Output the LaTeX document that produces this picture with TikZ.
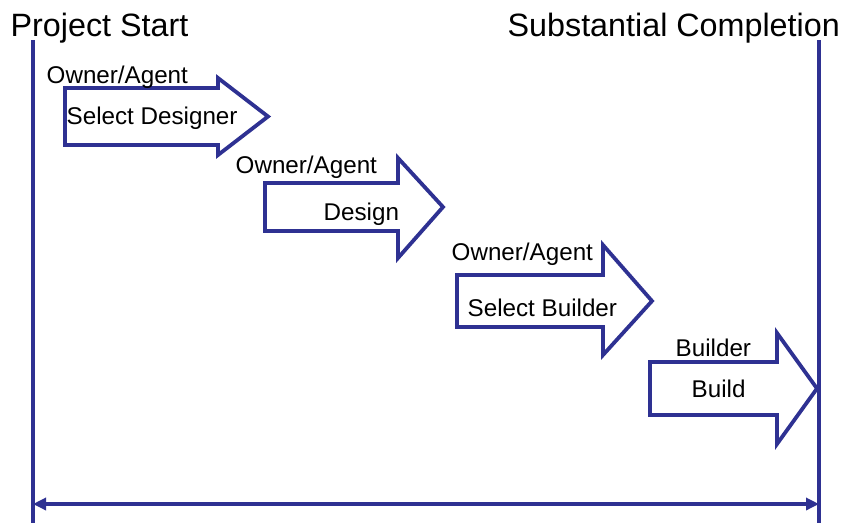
\documentclass[tikz,border=0pt]{standalone}
\usepackage{fontspec}
\setmainfont{Liberation Sans}
\usetikzlibrary{arrows.meta}
\definecolor{navy}{RGB}{46,49,146}
\tikzset{
  phase/.style={draw=navy, line width=3.8pt, line join=miter, fill=white},
  mark line/.style={draw=navy, line width=4pt},
  span/.style={draw=navy, line width=3.8pt, {Triangle[length=13pt,width=12pt]}-{Triangle[length=13pt,width=12pt]}},
  head/.style={font=\fontsize{32.3}{37}\selectfont, inner sep=0pt},
  lbl/.style={font=\fontsize{24.2}{28}\selectfont, inner sep=0pt},
}
% step arrow: body left x, body top y, body bottom y, head base x, head top y, head bottom y, tip x
\newcommand{\phasearrow}[7]{%
  \draw[phase] (#1,#2) -- (#4,#2) -- (#4,#5) -- (#7,{(#2+#3)/2}) -- (#4,#6) -- (#4,#3) -- (#1,#3) -- cycle;}
\begin{document}
\begin{tikzpicture}[x=1pt,y=-1pt]
\useasboundingbox (0,0) rectangle (843,523);

% milestone lines
\coordinate (startTop) at (33,40);
\coordinate (startBot) at (33,523);
\coordinate (endTop) at (819,40);
\coordinate (endBot) at (819,523);
\draw[mark line] (startTop) -- (startBot);
\draw[mark line] (endTop) -- (endBot);

% overall duration
\coordinate (spanL) at (33,504);
\coordinate (spanR) at (819,504);
\draw[span] (spanL) -- (spanR);

% milestone titles
\node[head, anchor=base west] (start) at (10.5,36) {Project Start};
\node[head, anchor=base east] (finish) at (840,36) {Substantial Completion};

% phases
\phasearrow{65}{88}{145}{218}{78}{155}{268}
\phasearrow{265}{183}{231}{398}{158}{258}{443}
\phasearrow{457}{275}{327}{603}{245}{355}{652}
\phasearrow{650}{362}{415}{777}{333}{444}{817}

% phase labels
\node[lbl, anchor=base west] (who1) at (46.5,83) {Owner/Agent};
\node[lbl, anchor=base west] (what1) at (66.5,124) {Select Designer};
\node[lbl, anchor=base west] (who2) at (235.5,173) {Owner/Agent};
\node[lbl, anchor=base west] (what2) at (323.5,220) {Design};
\node[lbl, anchor=base west] (who3) at (451.5,260) {Owner/Agent};
\node[lbl, anchor=base west] (what3) at (467.5,316) {Select Builder};
\node[lbl, anchor=base west] (who4) at (675.5,356) {Builder};
\node[lbl, anchor=base west] (what4) at (691.5,397) {Build};
\end{tikzpicture}
\end{document}
